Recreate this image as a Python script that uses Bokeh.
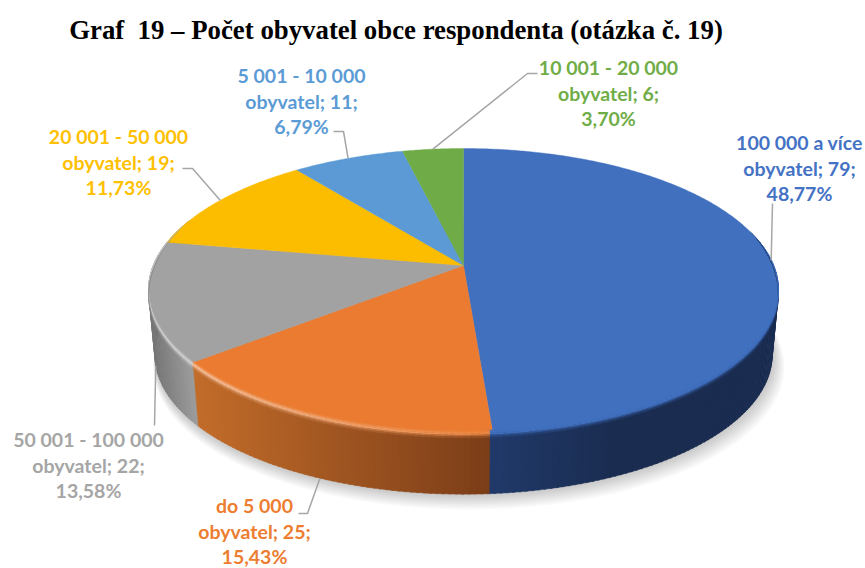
import numpy as np
from bokeh.plotting import figure
from bokeh.models import Range1d
from bokeh.core.properties import value
from bokeh.embed import file_html
from bokeh.resources import INLINE

TITLE = "Graf\u00a0 19 – Počet obyvatel obce respondenta (otázka č. 19)"
CATEGORIES = ["100 000 a více", "do 5 000", "50 001 - 100 000", "20 001 - 50 000", "5 001 - 10 000", "10 001 - 20 000"]
COUNTS = [79, 25, 22, 19, 11, 6]
PERCENTS = ["48,77%", "15,43%", "13,58%", "11,73%", "6,79%", "3,70%"]
COLORS = ["#4170BF", "#EA7B30", "#A2A2A2", "#FCBD00", "#5B9AD5", "#6FAB46"]
TEXT_COLORS = ["#4472C4", "#ED7D31", "#A5A5A5", "#FFC000", "#5B9BD5", "#70AD47"]

# Layout (page pixels)
CX, CY, A, B, K = 463.0, 265.0, 310.0, 137.6, 0.176
WALL_S, WALL_DY = 0.98, 65.0
LABEL_X = [799, 254, 88, 118, 301, 608]
LABEL_Y = [142, 505, 439, 136, 75, 67]
LINE_H = 25.7
# leader: anchor surface (top/bottom rim) and the elbow points towards the label
LEADER_ON_WALL = [False, True, True, False, False, False]
ELBOWS = [[(772, 203)], [(307, 513), (298, 513)], [(154, 425)],
          [(192, 168), (182, 168)], [(343, 131), (333, 131)], [(527, 73), (537, 73)]]

total = sum(COUNTS)
edges = np.concatenate([[0], np.cumsum(COUNTS)]) / total * 360.0


def pt(theta, s=1.0, dy=0.0):
    t = np.radians(theta)
    X, Y = np.sin(t), np.cos(t)
    w = 1 + K * Y
    return CX + s * A * X / w, CY + dy + s * B * (-Y) / w


def slice_of(theta):
    return int(np.clip(np.searchsorted(edges, theta % 360, side="right") - 1, 0, len(COUNTS) - 1))


def rgb(h):
    return np.array([int(h[i:i + 2], 16) for i in (1, 3, 5)], float)


def hx(c):
    c = np.clip(np.round(c), 0, 255).astype(int)
    return "#%02x%02x%02x" % tuple(c)


def wall_color(i, x):
    if i == 0:
        f = np.clip((x - 490) / 130, 0, 1)
        return (1 - f) * np.array([33, 58, 106.]) + f * np.array([26, 44, 80.])
    if i == 1:
        f = np.clip((x - 195) / 295, 0, 1)
        return (1 - f) * np.array([194, 108, 42.]) + f * np.array([124, 62, 24.])
    f = np.clip((x - 150) / 45, 0, 1)
    return (1 - f) * np.array([118, 118, 118.]) + f * np.array([158, 158, 158.])


p = figure(width=865, height=568, x_range=Range1d(0, 865), y_range=Range1d(568, 0),
           x_axis_type=None, y_axis_type=None, toolbar_location=None,
           output_backend="svg", min_border=0, outline_line_color=None)
p.grid.visible = False

# soft shadow under the disc
th = np.arange(0, 360.5, 2)
for n in range(9, 0, -1):
    xs, ys = pt(th, WALL_S * (1 + 0.0025 * n), WALL_DY + 1.3 * n)
    p.patch(xs + 0.6 * n, ys, fill_color="#000000", fill_alpha=0.022, line_color=None)

# side wall
step = 1.0
tw = np.arange(75, 290, step)
wx, wy, wc = [], [], []
for t in tw:
    t0, t1 = t, t + step + 0.3
    i = slice_of(t + step / 2)
    x0, y0 = pt(t0)
    x1, y1 = pt(t1)
    x2, y2 = pt(t1, WALL_S, WALL_DY)
    x3, y3 = pt(t0, WALL_S, WALL_DY)
    wx.append([x0, x1, x2, x3])
    wy.append([y0, y1, y2, y3])
    wc.append(hx(wall_color(i, x0)))
p.patches(wx, wy, fill_color=wc, line_color=wc, line_width=0.5)

# top face
for i in range(len(COUNTS)):
    t = np.linspace(edges[i], edges[i + 1], max(4, int((edges[i + 1] - edges[i]) * 2)))
    xs, ys = pt(t)
    p.patch(np.r_[CX, xs], np.r_[CY, ys], fill_color=COLORS[i], line_color=COLORS[i], line_width=0.4)

# bevel along the front rim, tapering out towards both sides
levels = [-2.0, -0.5, 1.0, 2.5, 4.0, 5.5]
weights = [(0.75, 0.25), (0.3, 0.7), (0.0, 1.0), (0.0, 0.55), (0.0, 0.2)]


def taper(t):
    return np.clip((t - 78) / 25, 0, 1) * np.clip((287 - t) / 25, 0, 1)


bx, by, bc = [], [], []
for t in np.arange(78, 287, step):
    i = slice_of(t + step / 2)
    x_mid = pt(t)[0]
    if i == 0:
        hl = 0.0
    elif i == 1:
        hl = 0.55 * np.clip((560 - x_mid) / 370, 0, 1)
    else:
        hl = 0.55
    face = rgb(COLORS[i])
    wall = wall_color(i, x_mid)
    high = face + hl * (255 - face)
    ta, tb = taper(t), taper(t + step)
    for (d0, d1), (wf, wh) in zip(zip(levels[:-1], levels[1:]), weights):
        c = wf * face + wh * high + (1 - wf - wh) * wall
        x0, y0 = pt(t, 1, d0 * ta)
        x1, y1 = pt(t + step + 0.3, 1, d0 * tb)
        x2, y2 = pt(t + step + 0.3, 1, d1 * tb)
        x3, y3 = pt(t, 1, d1 * ta)
        bx.append([x0, x1, x2, x3])
        by.append([y0, y1, y2, y3])
        bc.append(hx(c))
p.patches(bx, by, fill_color=bc, line_color=bc, line_width=0.3)

# leader lines, anchored at each slice's middle angle
for i in range(len(COUNTS)):
    mid = (edges[i] + edges[i + 1]) / 2
    x0, y0 = pt(mid, WALL_S, WALL_DY) if LEADER_ON_WALL[i] else pt(mid)
    xs = [x0] + [e[0] for e in ELBOWS[i]]
    ys = [y0] + [e[1] for e in ELBOWS[i]]
    p.line(xs, ys, line_color="#A6A6A6", line_width=1.5)

# labels
tx, ty, tt, tc = [], [], [], []
for i, cat in enumerate(CATEGORIES):
    for j, line in enumerate([cat, f"obyvatel; {COUNTS[i]};", PERCENTS[i]]):
        tx.append(LABEL_X[i])
        ty.append(LABEL_Y[i] + j * LINE_H)
        tt.append(line)
        tc.append(TEXT_COLORS[i])
p.text(tx, ty, text=tt, text_color=tc, text_font=value("Lato"), text_font_style="bold",
       text_font_size="19.5px", text_align="center", text_baseline="middle")

p.text([395.5], [29], text=[TITLE], text_color="#000000", text_font=value("Liberation Serif"),
       text_font_style="bold", text_font_size="26.8px", text_align="center", text_baseline="middle")

open("out.html", "w").write(file_html(p, INLINE))
